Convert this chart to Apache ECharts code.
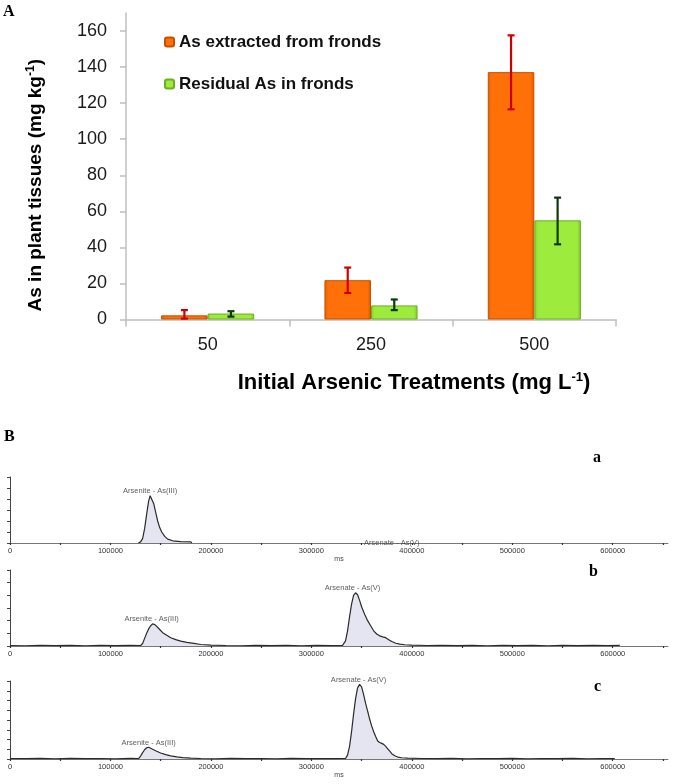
<!DOCTYPE html>
<html><head><meta charset="utf-8">
<script src="https://cdn.jsdelivr.net/npm/echarts@6/dist/echarts.min.js"></script>
<style>html,body{margin:0;padding:0;background:#fff}#c{width:675px;height:784px}</style>
</head><body><div id="c"></div>
<script>
// ---- Panel A data ----
const categories = ['50', '250', '500'];
const extractedValues = [2.3, 21.8, 137.2];
const extractedLow = [0.5, 14.7, 116.6];
const extractedHigh = [5.2, 28.8, 157.6];
const residualValues = [3.3, 7.8, 55.0];
const residualLow = [1.6, 5.2, 41.7];
const residualHigh = [4.6, 11.1, 67.6];
const yTicksA = [0, 20, 40, 60, 80, 100, 120, 140, 160];

// ---- Panel B data ----
const chromLabelTicks = [0, 100000, 200000, 300000, 400000, 500000, 600000];
const chromMinorTicks = [0, 50000, 100000, 150000, 200000, 250000, 300000, 350000, 400000, 450000, 500000, 550000, 600000, 650000];
const traceA = [[127800,0],[130000,0.1],[132000,0.4],[134000,1.3],[136000,2.6],[138000,3.8],[139500,4.3],[141000,4.2],[143000,3.6],[145000,2.8],[147000,2.0],[149000,1.4],[151000,1.0],[154000,0.6],[157000,0.35],[162000,0.2],[170000,0.12],[180000,0.1],[181000,0]];
const traceB = [[0,0.04],[15000,0.02],[30000,0.06],[45000,0.03],[60000,0.05],[75000,0.02],[90000,0.06],[105000,0.03],[120000,0.05],[130000,0.04],[132000,0.2],[134000,0.6],[136000,1.0],[138000,1.35],[140000,1.6],[142000,1.75],[144000,1.7],[146000,1.55],[149000,1.3],[152000,1.05],[156000,0.85],[160000,0.65],[165000,0.5],[170000,0.38],[176000,0.28],[183000,0.2],[190000,0.12],[200000,0.07],[215000,0.04],[230000,0.02],[245000,0.05],[260000,0.03],[275000,0.06],[290000,0.02],[305000,0.05],[320000,0.03],[331000,0.05],[334000,0.4],[336000,1.2],[338000,2.3],[340000,3.3],[342000,4.0],[344000,4.2],[346000,4.05],[348000,3.6],[350000,3.1],[353000,2.5],[356000,2.0],[359000,1.6],[362000,1.2],[365000,0.95],[368000,0.8],[371000,0.72],[374000,0.66],[377000,0.5],[380000,0.35],[384000,0.22],[388000,0.15],[393000,0.1],[400000,0.07],[415000,0.04],[430000,0.06],[445000,0.03],[460000,0.05],[475000,0.02],[490000,0.06],[505000,0.03],[520000,0.05],[535000,0.02],[550000,0.06],[565000,0.03],[580000,0.05],[595000,0.04],[607000,0.05]];
const traceC = [[0,0.05],[15000,0.03],[30000,0.07],[45000,0.02],[60000,0.06],[75000,0.03],[90000,0.05],[105000,0.02],[120000,0.06],[128000,0.05],[130000,0.3],[132000,0.65],[134000,0.95],[136000,1.15],[138000,1.2],[140000,1.1],[143000,0.95],[146000,0.8],[150000,0.62],[155000,0.45],[160000,0.32],[166000,0.22],[172000,0.14],[180000,0.08],[190000,0.05],[205000,0.02],[220000,0.06],[235000,0.03],[250000,0.05],[265000,0.02],[280000,0.06],[295000,0.03],[310000,0.05],[325000,0.03],[334000,0.05],[336000,0.4],[338000,1.3],[340000,2.8],[342000,4.6],[344000,6.2],[346000,7.3],[348000,7.65],[350000,7.4],[352000,6.6],[354000,5.7],[356000,4.9],[358000,4.1],[360000,3.4],[362000,2.8],[364000,2.3],[366000,1.85],[368000,1.7],[370000,1.6],[372000,1.5],[374000,1.3],[376000,1.05],[378000,0.8],[380000,0.55],[383000,0.33],[386000,0.2],[390000,0.13],[396000,0.08],[410000,0.05],[425000,0.03],[440000,0.06],[455000,0.02],[470000,0.05],[485000,0.03],[500000,0.06],[515000,0.02],[530000,0.05],[545000,0.03],[560000,0.06],[575000,0.02],[590000,0.05],[602000,0.04]];
const peakLabelsA = [{value: [139500, 4.3], name: 'Arsenite - As(III)'}];
const baseLabelA = [{value: [380000, 0], name: 'Arsenate - As(V)'}];
const peakLabelsB = [{value: [141000, 1.75], name: 'Arsenite - As(III)'}, {value: [341000, 4.2], name: 'Arsenate - As(V)'}];
const peakLabelsC = [{value: [138000, 1.2], name: 'Arsenite - As(III)'}, {value: [347000, 7.65], name: 'Arsenate - As(V)'}];

const BAR_FRAC = 0.285;
const FONT = 'Liberation Sans, Arial, sans-serif';
const SERIF = 'Liberation Serif, Times New Roman, serif';

const chart = echarts.init(document.getElementById('c'), null, {renderer: 'canvas'});

function errRender(sign, color) {
  return function (params, api) {
    const x = api.value(0), lo = api.value(1), hi = api.value(2);
    const pHi = api.coord([x, hi]);
    const pLo = api.coord([x, lo]);
    const band = api.size([1, 0])[0];
    const cx = pHi[0] + sign * band * BAR_FRAC / 2;
    const cap = 3.5;
    const st = {stroke: color, lineWidth: 2.2};
    return {type: 'group', children: [
      {type: 'line', shape: {x1: cx, y1: pHi[1], x2: cx, y2: pLo[1]}, style: st},
      {type: 'line', shape: {x1: cx - cap, y1: pHi[1], x2: cx + cap, y2: pHi[1]}, style: st},
      {type: 'line', shape: {x1: cx - cap, y1: pLo[1], x2: cx + cap, y2: pLo[1]}, style: st}
    ]};
  };
}

const orangeGrad = new echarts.graphic.LinearGradient(0, 0, 1, 0, [
  {offset: 0, color: '#E45E00'}, {offset: 0.08, color: '#FF7008'}, {offset: 0.92, color: '#FF7008'}, {offset: 1, color: '#D85800'}]);
const greenGrad = new echarts.graphic.LinearGradient(0, 0, 1, 0, [
  {offset: 0, color: '#86D22E'}, {offset: 0.08, color: '#9DEB3C'}, {offset: 0.92, color: '#9DEB3C'}, {offset: 1, color: '#7DC42A'}]);

function chromX(idx, withName) {
  return {
    type: 'value', gridIndex: idx, min: 0, max: 655000,
    name: withName ? 'ms' : '', nameLocation: 'middle', nameGap: 13,
    nameTextStyle: {fontSize: 7, color: '#444', fontFamily: FONT},
    axisLine: {lineStyle: {color: '#777', width: 1}},
    axisTick: {customValues: chromMinorTicks, length: 2, lineStyle: {color: '#333', width: 1.2}},
    axisLabel: {customValues: chromLabelTicks, fontSize: 7.5, color: '#333', margin: 4, fontFamily: FONT,
      formatter: function (v) { return String(v); }},
    splitLine: {show: false}
  };
}
function chromY(idx, max) {
  return {
    type: 'value', gridIndex: idx, min: 0, max: max, interval: 1,
    axisLine: {show: true, lineStyle: {color: '#444', width: 1}},
    axisTick: {show: true, length: 3, lineStyle: {color: '#444'}},
    axisLabel: {show: false}, splitLine: {show: false}
  };
}
function traceSeries(idx, data) {
  return {type: 'line', xAxisIndex: idx, yAxisIndex: idx, data: data, symbol: 'none', smooth: false,
    lineStyle: {color: '#2a2a2a', width: 1.2}, areaStyle: {color: 'rgba(208,208,230,0.8)'}, silent: true, z: 2};
}
function labelSeries(idx, data, pos, dist) {
  return {type: 'scatter', xAxisIndex: idx, yAxisIndex: idx, data: data, symbolSize: 1,
    itemStyle: {color: 'rgba(0,0,0,0)'}, silent: true, z: 5,
    label: {show: true, position: pos, distance: dist, formatter: '{b}', fontSize: 7.5, color: '#333', fontFamily: FONT}};
}

const panelTitle = (t, l, tp, fs) => ({text: t, left: l, top: tp, padding: 0,
  textStyle: {fontFamily: SERIF, fontWeight: 'bold', fontSize: fs, color: '#000'}});

const option = {
  animation: false,
  backgroundColor: '#fff',
  textStyle: {fontFamily: FONT},
  title: [panelTitle('A', 3, 4, 16), panelTitle('B', 4, 429, 16), panelTitle('a', 593, 450, 16), panelTitle('b', 589, 564, 16), panelTitle('c', 594, 679, 16)],
  legend: {
    orient: 'vertical', left: 159, top: 28, itemWidth: 9, itemHeight: 9, itemGap: 24,
    data: ['As extracted from fronds', 'Residual As in fronds'],
    textStyle: {fontSize: 17, fontWeight: 'bold', color: '#111', lineHeight: 18, fontFamily: FONT}
  },
  grid: [
    {left: 126, top: 13, right: 59, height: 306.5, outerBoundsMode: 'none'},
    {left: 10, right: 7, top: 477, height: 66, outerBoundsMode: 'none'},
    {left: 10, right: 7, top: 570, height: 76, outerBoundsMode: 'none'},
    {left: 10, right: 7, top: 681, height: 78, outerBoundsMode: 'none'}
  ],
  xAxis: [
    {type: 'category', gridIndex: 0, data: categories,
      name: 'Initial Arsenic Treatments (mg L{sup|-1})', nameLocation: 'middle', nameGap: 51,
      nameTextStyle: {fontSize: 22, fontWeight: 'bold', color: '#000', padding: [0, 0, 0, 86], lineHeight: 24,
        rich: {sup: {fontSize: 13, fontWeight: 'bold', color: '#000', lineHeight: 11, verticalAlign: 'top'}}},
      axisLine: {lineStyle: {color: '#BFBFBF', width: 1.5}},
      axisTick: {show: true, length: 7, alignWithLabel: false, lineStyle: {color: '#BFBFBF', width: 1.5}},
      axisLabel: {fontSize: 18, color: '#1a1a1a', margin: 17}
    },
    chromX(1, true), chromX(2, false), chromX(3, true)
  ],
  yAxis: [
    {type: 'value', gridIndex: 0, min: 0, max: 170,
      name: 'As in plant tissues (mg kg{sup|-1})', nameLocation: 'middle', nameGap: 79, nameRotate: 90,
      nameTextStyle: {fontSize: 19, fontWeight: 'bold', color: '#000', padding: [0, 38, 0, 0], lineHeight: 22,
        rich: {sup: {fontSize: 12, fontWeight: 'bold', color: '#000', lineHeight: 10, verticalAlign: 'top'}}},
      axisLine: {show: true, lineStyle: {color: '#BFBFBF', width: 1.5}},
      axisTick: {show: true, length: 6, customValues: yTicksA, lineStyle: {color: '#BFBFBF', width: 1.5}},
      axisLabel: {customValues: yTicksA, fontSize: 18, color: '#1a1a1a', margin: 19},
      splitLine: {show: false}
    },
    chromY(1, 6), chromY(2, 6), chromY(3, 8)
  ],
  series: [
    {type: 'bar', name: 'As extracted from fronds', xAxisIndex: 0, yAxisIndex: 0, data: extractedValues,
      barWidth: (BAR_FRAC * 100) + '%', barGap: '0%',
      itemStyle: {color: orangeGrad, borderColor: '#C45000', borderWidth: 1}},
    {type: 'bar', name: 'Residual As in fronds', xAxisIndex: 0, yAxisIndex: 0, data: residualValues,
      barWidth: (BAR_FRAC * 100) + '%', barGap: '0%',
      itemStyle: {color: greenGrad, borderColor: '#6EAE24', borderWidth: 1}},
    {type: 'custom', xAxisIndex: 0, yAxisIndex: 0, z: 4, silent: true,
      renderItem: errRender(-1, '#CC0000'), encode: {x: 0, y: [1, 2]},
      data: categories.map((c, i) => [i, extractedLow[i], extractedHigh[i]])},
    {type: 'custom', xAxisIndex: 0, yAxisIndex: 0, z: 4, silent: true,
      renderItem: errRender(1, '#0B3A0B'), encode: {x: 0, y: [1, 2]},
      data: categories.map((c, i) => [i, residualLow[i], residualHigh[i]])},
    traceSeries(1, traceA), traceSeries(2, traceB), traceSeries(3, traceC),
    labelSeries(1, peakLabelsA, 'top', 0),
    labelSeries(1, baseLabelA, 'inside', 0),
    labelSeries(2, peakLabelsB, 'top', 0),
    labelSeries(3, peakLabelsC, 'top', 0)
  ]
};
chart.setOption(option);
</script>
</body></html>
